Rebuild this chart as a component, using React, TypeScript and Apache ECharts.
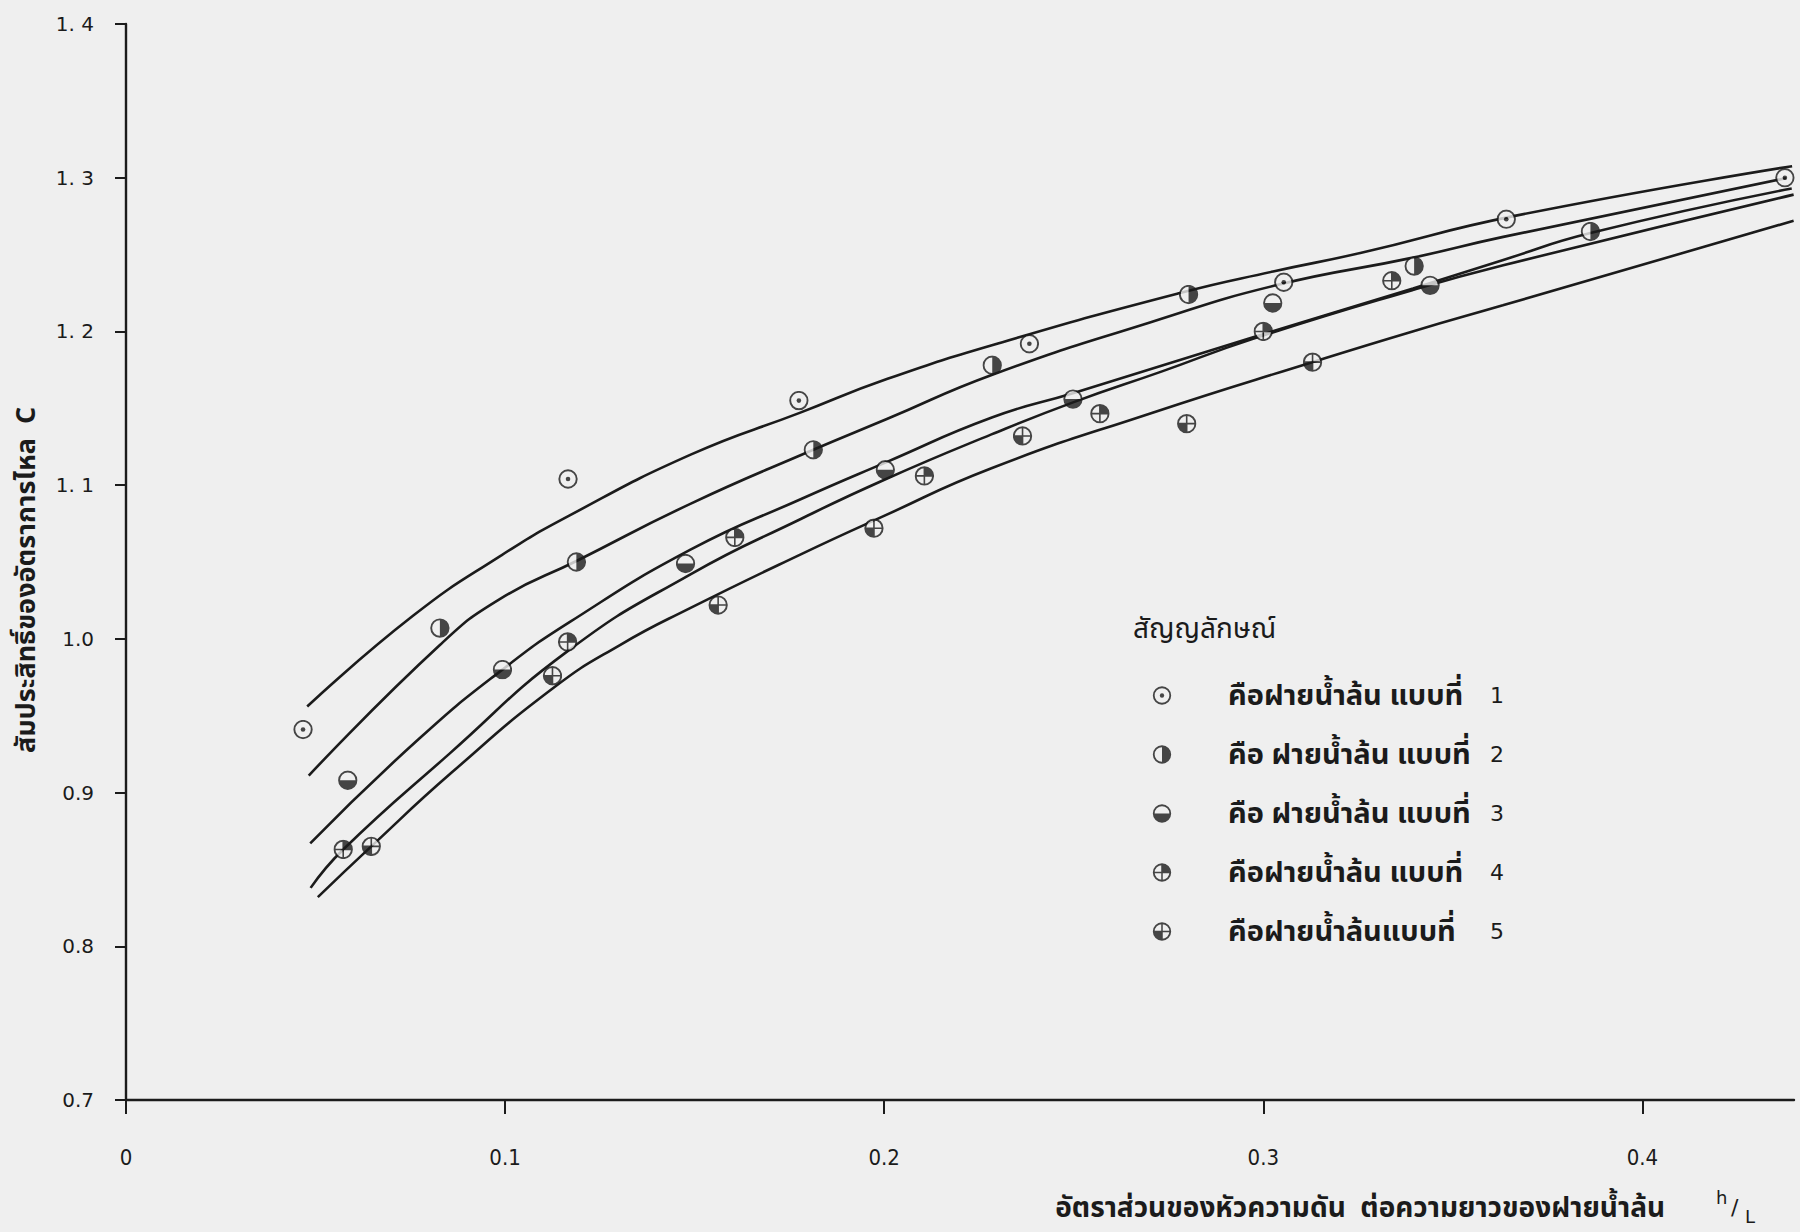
import React, { useEffect, useRef } from 'react';
import * as echarts from 'echarts';

const INK = '#1b1b1b';
const PAPER = '#efefef';
const THAI = "'Noto Sans Thai', 'Noto Sans Thai UI', 'Loma', 'Garuda', 'Norasi', 'Tlwg Typo', 'Noto Sans', sans-serif";
const LATIN_WIDE = "'DejaVu Sans', 'Liberation Sans', sans-serif";
const LATIN_NARROW = "'Liberation Sans Narrow', 'DejaVu Sans Condensed', 'Roboto Condensed', 'Liberation Sans', sans-serif";

// Axis ticks
const xTickValues = [0, 0.1, 0.2, 0.3, 0.4];
const xTickLabels = ['0', '0.1', '0.2', '0.3', '0.4'];
const yTickLabels = ['0.7', '0.8', '0.9', '1.0', '1. 1', '1. 2', '1. 3', '1. 4'];

// Legend wording, one row per weir type
const legendWords = [
  'คือฝายน้ำล้น แบบที่',
  'คือ ฝายน้ำล้น แบบที่',
  'คือ ฝายน้ำล้น แบบที่',
  'คือฝายน้ำล้น แบบที่',
  'คือฝายน้ำล้นแบบที่',
];
const legendNumbers = ['1', '2', '3', '4', '5'];

// Measured points [h/L, C] for each weir type
const weir1 = [[0.0467, 0.941], [0.1166, 1.104], [0.1775, 1.155], [0.2383, 1.192], [0.3054, 1.232], [0.3641, 1.273], [0.4376, 1.300]];
const weir2 = [[0.0828, 1.007], [0.1188, 1.050], [0.1813, 1.123], [0.2285, 1.178], [0.2803, 1.224], [0.3398, 1.2425], [0.3863, 1.265]];
const weir3 = [[0.0585, 0.908], [0.0993, 0.980], [0.1476, 1.049], [0.2003, 1.110], [0.2498, 1.156], [0.3025, 1.2185], [0.344, 1.230]];
const weir4 = [[0.0573, 0.863], [0.1165, 0.998], [0.1606, 1.066], [0.2106, 1.106], [0.2569, 1.1465], [0.300, 1.200], [0.3339, 1.233]];
const weir5 = [[0.0647, 0.865], [0.1125, 0.976], [0.1562, 1.022], [0.1973, 1.072], [0.2365, 1.132], [0.2798, 1.140], [0.313, 1.180]];

// Hand-fitted curves [h/L, C]
const curve1 = [[0.0478, 0.956], [0.0757, 1.015], [0.0988, 1.054], [0.1168, 1.080], [0.1491, 1.120], [0.1777, 1.147], [0.2007, 1.169], [0.2312, 1.193], [0.278, 1.225], [0.3026, 1.239], [0.3256, 1.251], [0.366, 1.275], [0.4395, 1.3075]];
const curve2 = [[0.0482, 0.911], [0.0828, 0.996], [0.0987, 1.026], [0.1191, 1.051], [0.149, 1.088], [0.1813, 1.123], [0.2007, 1.143], [0.2287, 1.172], [0.2703, 1.206], [0.3033, 1.230], [0.3395, 1.248], [0.3633, 1.2615], [0.4379, 1.2997]];
const curve3 = [[0.0486, 0.867], [0.0773, 0.935], [0.0993, 0.980], [0.1171, 1.011], [0.1489, 1.058], [0.1781, 1.091], [0.2006, 1.115], [0.2284, 1.144], [0.25, 1.160], [0.2971, 1.196], [0.3395, 1.228], [0.3633, 1.2465], [0.3863, 1.264], [0.4394, 1.293]];
const curve4 = [[0.0487, 0.838], [0.0573, 0.863], [0.0852, 0.925], [0.1165, 0.992], [0.1489, 1.042], [0.178, 1.078], [0.2005, 1.104], [0.2283, 1.133], [0.25, 1.154], [0.2733, 1.174], [0.2971, 1.195], [0.3395, 1.227], [0.3633, 1.243], [0.4399, 1.289]];
const curve5 = [[0.0506, 0.832], [0.0647, 0.865], [0.0859, 0.913], [0.1127, 0.968], [0.1303, 0.996], [0.1488, 1.020], [0.178, 1.055], [0.1991, 1.079], [0.2283, 1.111], [0.2706, 1.147], [0.3129, 1.180], [0.3394, 1.200], [0.3632, 1.217], [0.4399, 1.272]];

const weirs = [weir1, weir2, weir3, weir4, weir5];
const curves = [curve1, curve2, curve3, curve4, curve5];

// Marker glyphs: ring with dot, half-filled discs, quartered discs
const ring = `<circle cx="10" cy="10" r="8.7" fill="${PAPER}" stroke="${INK}" stroke-width="1.9"/>`;
const cross = `<path d="M10 1.3 V18.7 M1.3 10 H18.7" stroke="${INK}" stroke-width="1.6" fill="none"/>`;
const glyphBodies = [
  ring + `<circle cx="10" cy="10" r="2.3" fill="${INK}"/>`,
  ring + `<path d="M10 1.3 A8.7 8.7 0 0 1 10 18.7 Z" fill="${INK}"/>`,
  ring + `<path d="M1.3 10 A8.7 8.7 0 0 0 18.7 10 Z" fill="${INK}"/>`,
  ring + `<path d="M10 10 L10 1.3 A8.7 8.7 0 0 1 18.7 10 Z" fill="${INK}"/>` + cross,
  ring + `<path d="M10 10 L10 18.7 A8.7 8.7 0 0 1 1.3 10 Z" fill="${INK}"/>` + cross,
];
const markerIcons = glyphBodies.map(
  (b) =>
    'image://data:image/svg+xml;charset=utf-8,' +
    encodeURIComponent(`<svg xmlns="http://www.w3.org/2000/svg" width="20" height="20" viewBox="0 0 20 20">${b}</svg>`)
);

const seriesNames = legendWords.map((w, i) => `${w} ${legendNumbers[i]}`);

export default function App() {
  const ref = useRef<HTMLDivElement>(null);

  useEffect(() => {
    if (!ref.current) return;
    const chart = echarts.init(ref.current, undefined, { renderer: 'svg' });

    const lineSeries = curves.map((c, i) => ({
      type: 'line',
      name: `curve-${i + 1}`,
      data: c,
      smooth: 0.5,
      symbol: 'none',
      silent: true,
      z: 2,
      lineStyle: { color: INK, width: 2.6 },
    }));

    const pointSeries = weirs.map((d, i) => ({
      type: 'scatter',
      name: seriesNames[i],
      data: d,
      symbol: markerIcons[i],
      symbolSize: 20,
      z: 3,
      itemStyle: { color: INK },
    }));

    chart.setOption({
      animation: false,
      backgroundColor: PAPER,
      title: {
        text: 'สัญญลักษณ์',
        left: 1128,
        top: 610,
        textStyle: { fontFamily: THAI, fontSize: 28, fontWeight: 'normal', color: INK },
      },
      legend: {
        orient: 'vertical',
        left: 1096,
        top: 676,
        itemWidth: 122,
        itemHeight: 19,
        itemGap: 30,
        selectedMode: false,
        data: seriesNames.map((n, i) => ({ name: n, icon: markerIcons[i] })),
        formatter: (name: string) => {
          const i = seriesNames.indexOf(name);
          return `{t|${legendWords[i]}}{n|${legendNumbers[i]}}`;
        },
        textStyle: {
          rich: {
            t: { width: 262, fontFamily: THAI, fontSize: 29, fontWeight: 'bold', color: INK, lineHeight: 34 },
            n: { fontFamily: LATIN_WIDE, fontSize: 22, color: INK, lineHeight: 34 },
          },
        },
      },
      grid: { left: 126, top: 24, width: 1668, height: 1076 },
      xAxis: {
        type: 'value',
        min: 0,
        max: 0.44,
        interval: 0.1,
        axisLine: { show: true, lineStyle: { color: INK, width: 2.4 } },
        axisTick: { show: true, length: 14, customValues: xTickValues, lineStyle: { color: INK, width: 2 } },
        axisLabel: {
          customValues: xTickValues,
          formatter: (v: number) => xTickLabels[Math.round(v * 10)] ?? '',
          margin: 46,
          fontFamily: LATIN_NARROW,
          fontSize: 22,
          color: INK,
        },
        splitLine: { show: false },
      },
      yAxis: {
        type: 'value',
        min: 0.7,
        max: 1.4,
        interval: 0.1,
        name: 'สัมประสิทธิ์ของอัตราการไหล  C',
        nameLocation: 'middle',
        nameGap: 86,
        nameRotate: 90,
        nameTextStyle: { fontFamily: THAI, fontSize: 27, fontWeight: 'bold', color: INK, padding: [0, 36, 0, 0] },
        axisLine: { show: true, lineStyle: { color: INK, width: 2.4 } },
        axisTick: { show: true, length: 11, lineStyle: { color: INK, width: 2 } },
        axisLabel: {
          formatter: (v: number) => yTickLabels[Math.round(v * 10) - 7] ?? '',
          margin: 32,
          fontFamily: LATIN_WIDE,
          fontSize: 20,
          color: INK,
        },
        splitLine: { show: false },
      },
      graphic: [
        {
          type: 'text',
          right: 135,
          top: 1194,
          style: { text: 'อัตราส่วนของหัวความดัน  ต่อความยาวของฝายน้ำล้น', font: `bold 28px ${THAI}`, fill: INK },
        },
        { type: 'text', left: 1716, top: 1188, style: { text: 'h', font: `18px ${LATIN_WIDE}`, fill: INK } },
        { type: 'text', left: 1731, top: 1196, style: { text: '/', font: `22px ${LATIN_WIDE}`, fill: INK } },
        { type: 'text', left: 1745, top: 1207, style: { text: 'L', font: `18px ${LATIN_WIDE}`, fill: INK } },
      ],
      series: [...lineSeries, ...pointSeries],
    });

    return () => chart.dispose();
  }, []);

  return (
    <div
      ref={ref}
      style={{ position: 'fixed', left: 0, top: 0, width: 1800, height: 1232 }}
    />
  );
}
